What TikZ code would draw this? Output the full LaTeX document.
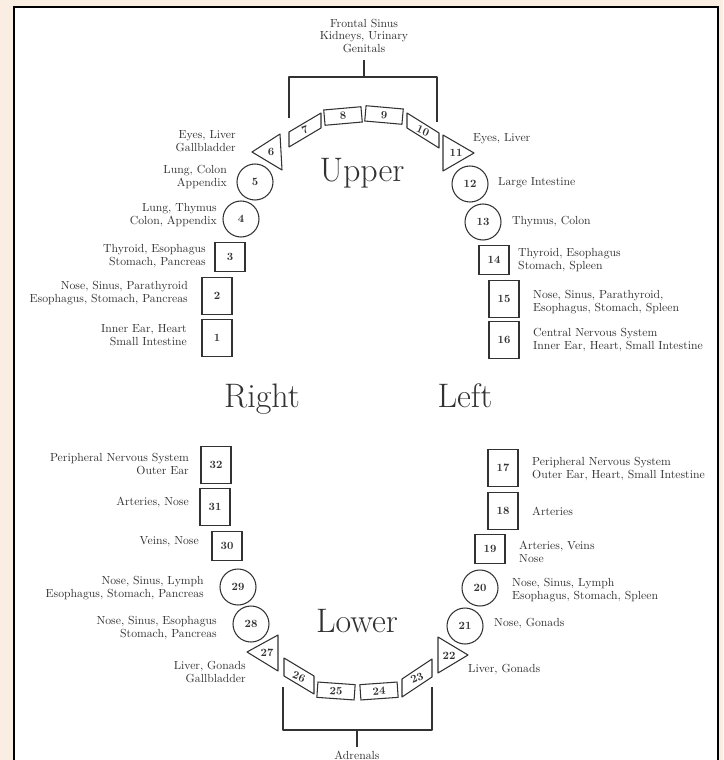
\documentclass[tikz,border=0pt]{standalone}
\usepackage{tikz}
\usetikzlibrary{positioning}

\definecolor{paper}{RGB}{250,237,226}
\definecolor{ink}{RGB}{50,50,50}

\begin{document}
\begin{tikzpicture}[x=0.03cm, y=-0.03cm,
    num/.style={font=\fontsize{9.5}{11}\selectfont\bfseries, text=ink, inner sep=0pt},
    tallbox/.style={num, draw=ink, line width=0.9pt, minimum width=0.9cm, minimum height=1.1cm},
    smallbox/.style={num, draw=ink, line width=0.9pt, minimum width=0.9cm, minimum height=0.86cm},
    roundnode/.style={num, circle, draw=ink, line width=0.9pt, minimum size=1.08cm},
    flatbox/.style={num, draw=ink, line width=0.9pt, minimum width=1.12cm, minimum height=0.46cm},
    rim/.style={draw=ink, line width=0.9pt, line join=round},
    lbl/.style={font=\fontsize{10}{11}\selectfont, text=ink, inner sep=0pt},
    lft/.style={lbl, anchor=east, align=right},
    rgt/.style={lbl, anchor=west, align=left},
    bigword/.style={font=\fontsize{29}{32}\selectfont, text=ink, anchor=base}]

    % Page and frame
    \useasboundingbox (0,0) rectangle (723,760);
    \fill[paper] (0,0) rectangle (723,760);
    \fill[white] (14,7) rectangle (718,760);
    \draw[line width=2pt] (14,760) -- (14,7) -- (718,7) -- (718,760);

    % Upper arch
    \node[roundnode] (c5) at (255,182) {5};
    \node[roundnode] (c4) at (241,219) {4};
    \node[smallbox] (b3) at (230,257) {3};
    \node[tallbox] (b2) at (217,296) {2};
    \node[tallbox] (b1) at (217,338) {1};
    \draw[rim] (252,152) -- (280,134) -- (282,170) -- cycle;
    \node[num] (n6) at (271,152) {6};
    \draw[rim] (289,132) -- (321,113) -- (321,128) -- (289,147) -- cycle;
    \node[num, rotate=22] (n7) at (305,130) {7};
    \node[flatbox, rotate=5] (n8) at (343,116) {8};
    \node[flatbox, rotate=-5] (n9) at (384,115) {9};
    \draw[rim] (407,113) -- (439,133) -- (439,148) -- (407,128) -- cycle;
    \node[num, rotate=-22] (n10) at (423,131) {10};
    \draw[rim] (443,135) -- (474,153) -- (443,171) -- cycle;
    \node[num] (n11) at (456,153) {11};
    \node[roundnode] (c12) at (470,184) {12};
    \node[roundnode] (c13) at (483,222) {13};
    \node[smallbox] (b14) at (494,260) {14};
    \node[tallbox] (b15) at (504,299) {15};
    \node[tallbox] (b16) at (504,340) {16};

    % Lower arch
    \node[tallbox] (b17) at (503,468) {17};
    \node[tallbox] (b18) at (503,511) {18};
    \node[smallbox] (b19) at (490,549) {19};
    \node[roundnode] (c20) at (480,588) {20};
    \node[roundnode] (c21) at (465,626) {21};
    \draw[rim] (438,637) -- (468,655) -- (438,673) -- cycle;
    \node[num] (n22) at (449,656) {22};
    \draw[rim] (402,679) -- (432,659) -- (432,677) -- (402,697) -- cycle;
    \node[num, rotate=22] (n23) at (417,678) {23};
    \node[flatbox, rotate=4] (n24) at (379,691) {24};
    \node[flatbox, rotate=-4] (n25) at (336,691) {25};
    \draw[rim] (284,658) -- (314,676) -- (314,694) -- (284,676) -- cycle;
    \node[num, rotate=-22] (n26) at (299,677) {26};
    \draw[rim] (247,652) -- (278,635) -- (278,671) -- cycle;
    \node[num] (n27) at (267,653) {27};
    \node[roundnode] (c28) at (251,624) {28};
    \node[roundnode] (c29) at (238,587) {29};
    \node[smallbox] (b30) at (227,546) {30};
    \node[tallbox] (b31) at (215,507) {31};
    \node[tallbox] (b32) at (216,465) {32};

    % Big words
    \node[bigword] (upper) at (362,181) {Upper};
    \node[bigword] (lower) at (357,632) {Lower};
    \node[bigword] (right) at (262,407) {Right};
    \node[bigword] (left) at (465,407) {Left};

    % Brackets
    \node[lbl, align=center] (frontal) at (364,36) {Frontal Sinus\\Kidneys, Urinary\\Genitals};
    \coordinate (ul) at (289,118);
    \coordinate (ur) at (437,122);
    \coordinate (ubar) at (364,77);
    \coordinate (ustem) at (364,60);
    \draw[rim] (ul) |- (ubar) -| (ur);
    \draw[rim] (ubar) -- (ustem);
    \node[lbl] (adrenals) at (357,755) {Adrenals};
    \coordinate (ll) at (283,687);
    \coordinate (lr) at (432,687);
    \coordinate (lbar) at (357,730);
    \coordinate (lstem) at (357,747);
    \draw[rim] (ll) |- (lbar) -| (lr);
    \draw[rim] (lbar) -- (lstem);

    % Labels on the right side of the picture
    \node[lft] (t6) at (236,141) {Eyes, Liver\\Gallbladder};
    \node[lft] (t5) at (227,177) {Lung, Colon\\Appendix};
    \node[lft] (t4) at (217,215) {Lung, Thymus\\Colon, Appendix};
    \node[lft] (t3) at (206,256) {Thyroid, Esophagus\\Stomach, Pancreas};
    \node[lft] (t2) at (188,293) {Nose, Sinus, Parathyroid\\Esophagus, Stomach, Pancreas};
    \node[lft] (t1) at (187,335) {Inner Ear, Heart\\Small Intestine};
    \node[lft] (t32) at (189,464) {Peripheral Nervous System\\Outer Ear};
    \node[lft] (t31) at (189,502) {Arteries, Nose};
    \node[lft] (t30) at (199,542) {Veins, Nose};
    \node[lft] (t29) at (204,588) {Nose, Sinus, Lymph\\Esophagus, Stomach, Pancreas};
    \node[lft] (t28) at (217,628) {Nose, Sinus, Esophagus\\Stomach, Pancreas};
    \node[lft] (t27) at (246,672) {Liver, Gonads\\Gallbladder};

    % Labels on the left side of the picture
    \node[rgt] (t11) at (473,139) {Eyes, Liver};
    \node[rgt] (t12) at (498,183) {Large Intestine};
    \node[rgt] (t13) at (512,222) {Thymus, Colon};
    \node[rgt] (t14) at (518,260) {Thyroid, Esophagus\\Stomach, Spleen};
    \node[rgt] (t15) at (533,302) {Nose, Sinus, Parathyroid,\\Esophagus, Stomach, Spleen};
    \node[rgt] (t16) at (533,340) {Central Nervous System\\Inner Ear, Heart, Small Intestine};
    \node[rgt] (t17) at (532,469) {Peripheral Nervous System\\Outer Ear, Heart, Small Intestine};
    \node[rgt] (t18) at (532,511) {Arteries};
    \node[rgt] (t19) at (519,552) {Arteries, Veins\\Nose};
    \node[rgt] (t20) at (512,590) {Nose, Sinus, Lymph\\Esophagus, Stomach, Spleen};
    \node[rgt] (t21) at (494,623) {Nose, Gonads};
    \node[rgt] (t22) at (468,669) {Liver, Gonads};
\end{tikzpicture}
\end{document}
